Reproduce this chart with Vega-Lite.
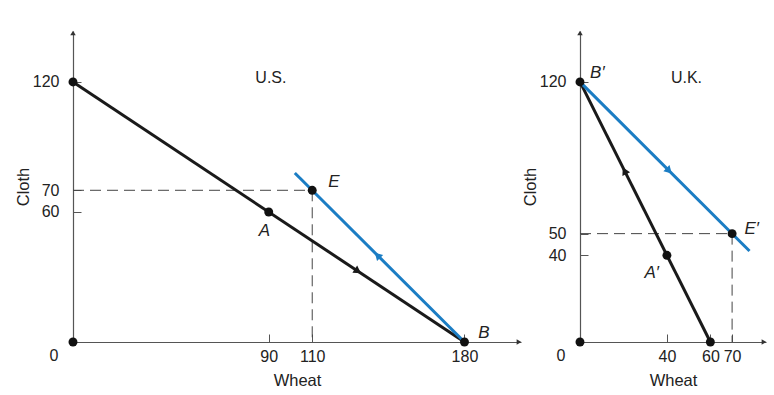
{
  "$schema": "https://vega.github.io/schema/vega-lite/v6.json",
  "padding": {"left": 15, "top": 30, "right": 5, "bottom": 5},
  "spacing": 0,
  "config": {
    "view": {"stroke": null},
    "font": "Liberation Sans",
    "axis": {
      "grid": false,
      "domainColor": "#555555",
      "domainWidth": 1.2,
      "tickColor": "#555555",
      "tickSize": -8,
      "labelFontSize": 16,
      "labelColor": "#222222",
      "titleFontSize": 16.5,
      "titleFontWeight": "normal",
      "titleColor": "#222222",
      "labelFlush": false,
      "labelOverlap": false
    },
    "axisX": {"labelPadding": 14, "titlePadding": 8},
    "axisY": {"labelPadding": 22, "titlePadding": 1}
  },
  "datasets": {
    "usLines": [
      {"curve": "ppf", "wheat": 0, "cloth": 120},
      {"curve": "ppf", "wheat": 180, "cloth": 0},
      {"curve": "trade", "wheat": 180, "cloth": 0},
      {"curve": "trade", "wheat": 102, "cloth": 78}
    ],
    "usArrows": [
      {"curve": "ppf", "wheat": 131, "cloth": 32.7},
      {"curve": "trade", "wheat": 140, "cloth": 40}
    ],
    "usPoints": [
      {"wheat": 0, "cloth": 120},
      {"wheat": 90, "cloth": 60},
      {"wheat": 110, "cloth": 70},
      {"wheat": 180, "cloth": 0},
      {"wheat": 0, "cloth": 0}
    ],
    "usDash": [
      {"wheat": 0, "cloth": 70, "wheat2": 110, "cloth2": 70},
      {"wheat": 110, "cloth": 70, "wheat2": 110, "cloth2": 0}
    ],
    "usLabels": [
      {"label": "E", "wheat": 120, "cloth": 74},
      {"label": "A", "wheat": 88, "cloth": 51},
      {"label": "B", "wheat": 189, "cloth": 4}
    ],
    "ukLines": [
      {"curve": "ppf", "wheat": 0, "cloth": 120},
      {"curve": "ppf", "wheat": 60, "cloth": 0},
      {"curve": "trade", "wheat": 0, "cloth": 120},
      {"curve": "trade", "wheat": 78, "cloth": 42}
    ],
    "ukArrows": [
      {"curve": "ppf", "wheat": 20.5, "cloth": 79},
      {"curve": "trade", "wheat": 41, "cloth": 79}
    ],
    "ukPoints": [
      {"wheat": 0, "cloth": 120},
      {"wheat": 40, "cloth": 40},
      {"wheat": 70, "cloth": 50},
      {"wheat": 60, "cloth": 0},
      {"wheat": 0, "cloth": 0}
    ],
    "ukDash": [
      {"wheat": 0, "cloth": 50, "wheat2": 70, "cloth2": 50},
      {"wheat": 70, "cloth": 50, "wheat2": 70, "cloth2": 0}
    ],
    "ukLabels": [
      {"label": "B′", "wheat": 8, "cloth": 124},
      {"label": "E′", "wheat": 79, "cloth": 52},
      {"label": "A′", "wheat": 33, "cloth": 32}
    ]
  },
  "hconcat": [
    {
      "width": 448,
      "height": 311,
      "encoding": {
        "x": {"field": "wheat", "type": "quantitative", "scale": {"domain": [0, 206], "nice": false, "zero": false},
              "axis": {"values": [90, 110, 180], "title": "Wheat"}},
        "y": {"field": "cloth", "type": "quantitative", "scale": {"domain": [0, 143.5], "nice": false, "zero": false},
              "axis": {"values": [60, 70, 120], "title": "Cloth"}}
      },
      "layer": [
        {
          "data": {"name": "usDash"},
          "mark": {"type": "rule", "strokeDash": [11, 6], "color": "#444444", "strokeWidth": 1},
          "encoding": {"x2": {"field": "wheat2"}, "y2": {"field": "cloth2"}}
        },
        {
          "data": {"name": "usLines"},
          "mark": {"type": "line", "strokeWidth": 3},
          "encoding": {
            "detail": {"field": "curve"},
            "color": {"field": "curve", "type": "nominal", "scale": {"domain": ["ppf", "trade"], "range": ["#1a1a1a", "#1b7dc4"]}, "legend": null}
          }
        },
        {
          "data": {"name": "usArrows"},
          "mark": {"type": "point", "shape": "triangle-right", "filled": true, "opacity": 1, "size": 75},
          "encoding": {
            "color": {"field": "curve", "type": "nominal", "scale": {"domain": ["ppf", "trade"], "range": ["#1a1a1a", "#1b7dc4"]}, "legend": null},
            "angle": {"condition": {"test": "datum.curve === 'ppf'", "value": 33.6}, "value": 225}
          }
        },
        {
          "data": {"name": "usPoints"},
          "mark": {"type": "point", "shape": "circle", "filled": true, "opacity": 1, "size": 80, "color": "#111111"}
        },
        {
          "data": {"values": [{"wheat": 0, "cloth": 143.5}]},
          "mark": {"type": "point", "shape": "triangle-up", "filled": true, "opacity": 1, "size": 30, "color": "#333333", "yOffset": 2}
        },
        {
          "data": {"values": [{"wheat": 206, "cloth": 0}]},
          "mark": {"type": "point", "shape": "triangle-right", "filled": true, "opacity": 1, "size": 30, "color": "#333333", "xOffset": -2}
        },
        {
          "data": {"name": "usLabels"},
          "mark": {"type": "text", "fontSize": 17, "fontStyle": "italic", "color": "#222222"},
          "encoding": {"text": {"field": "label"}}
        },
        {
          "data": {"values": [{"label": "U.S.", "wheat": 91, "cloth": 122}]},
          "mark": {"type": "text", "fontSize": 16, "color": "#222222"},
          "encoding": {"text": {"field": "label"}}
        },
        {
          "data": {"values": [{"label": "0", "wheat": 0, "cloth": 0}]},
          "mark": {"type": "text", "fontSize": 16, "color": "#222222", "dx": -19, "dy": 14},
          "encoding": {"text": {"field": "label"}}
        }
      ]
    },
    {
      "width": 186,
      "height": 311,
      "encoding": {
        "x": {"field": "wheat", "type": "quantitative", "scale": {"domain": [0, 85.6], "nice": false, "zero": false},
              "axis": {"values": [40, 60, 70], "title": "Wheat"}},
        "y": {"field": "cloth", "type": "quantitative", "scale": {"domain": [0, 143.5], "nice": false, "zero": false},
              "axis": {"values": [40, 50, 120], "title": "Cloth"}}
      },
      "layer": [
        {
          "data": {"name": "ukDash"},
          "mark": {"type": "rule", "strokeDash": [11, 6], "color": "#444444", "strokeWidth": 1},
          "encoding": {"x2": {"field": "wheat2"}, "y2": {"field": "cloth2"}}
        },
        {
          "data": {"name": "ukLines"},
          "mark": {"type": "line", "strokeWidth": 3},
          "encoding": {
            "detail": {"field": "curve"},
            "color": {"field": "curve", "type": "nominal", "scale": {"domain": ["ppf", "trade"], "range": ["#1a1a1a", "#1b7dc4"]}, "legend": null}
          }
        },
        {
          "data": {"name": "ukArrows"},
          "mark": {"type": "point", "shape": "triangle-right", "filled": true, "opacity": 1, "size": 75},
          "encoding": {
            "color": {"field": "curve", "type": "nominal", "scale": {"domain": ["ppf", "trade"], "range": ["#1a1a1a", "#1b7dc4"]}, "legend": null},
            "angle": {"condition": {"test": "datum.curve === 'ppf'", "value": 243.4}, "value": 45}
          }
        },
        {
          "data": {"name": "ukPoints"},
          "mark": {"type": "point", "shape": "circle", "filled": true, "opacity": 1, "size": 80, "color": "#111111"}
        },
        {
          "data": {"values": [{"wheat": 0, "cloth": 143.5}]},
          "mark": {"type": "point", "shape": "triangle-up", "filled": true, "opacity": 1, "size": 30, "color": "#333333", "yOffset": 2}
        },
        {
          "data": {"values": [{"wheat": 85.6, "cloth": 0}]},
          "mark": {"type": "point", "shape": "triangle-right", "filled": true, "opacity": 1, "size": 30, "color": "#333333", "xOffset": -2}
        },
        {
          "data": {"name": "ukLabels"},
          "mark": {"type": "text", "fontSize": 17, "fontStyle": "italic", "color": "#222222"},
          "encoding": {"text": {"field": "label"}}
        },
        {
          "data": {"values": [{"label": "U.K.", "wheat": 49, "cloth": 122}]},
          "mark": {"type": "text", "fontSize": 16, "color": "#222222"},
          "encoding": {"text": {"field": "label"}}
        },
        {
          "data": {"values": [{"label": "0", "wheat": 0, "cloth": 0}]},
          "mark": {"type": "text", "fontSize": 16, "color": "#222222", "dx": -19, "dy": 14},
          "encoding": {"text": {"field": "label"}}
        }
      ]
    }
  ]
}
